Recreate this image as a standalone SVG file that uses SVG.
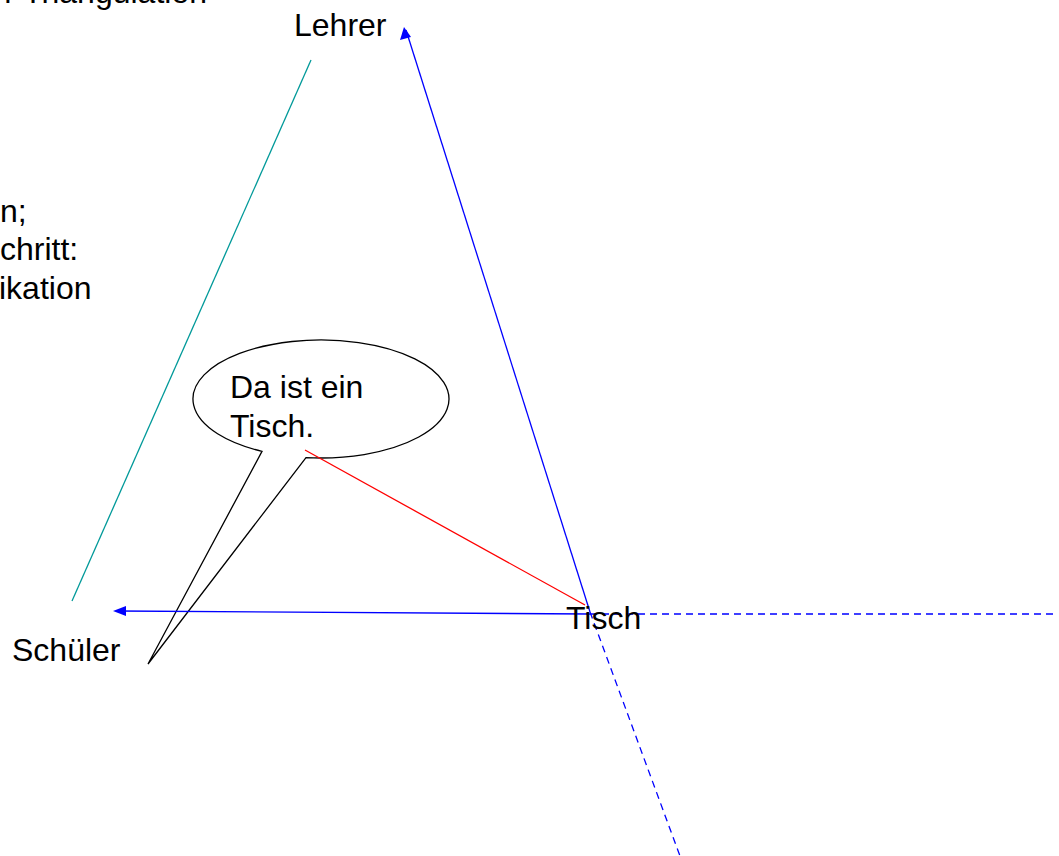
<svg xmlns="http://www.w3.org/2000/svg" width="1059" height="856" viewBox="0 0 1059 856">
<defs>
<style>
.t{font-family:"Liberation Sans",Arial,sans-serif;font-size:32px;fill:#000}
.b{stroke:#0000ff;stroke-width:1.3;fill:none}
.d{stroke:#0000ff;stroke-width:1.3;fill:none;stroke-dasharray:7,5}
.ah{fill:#0000ff}
</style>
</defs>
<rect width="1059" height="856" fill="#fff"/>
<g id="callout">
<path d="M262,451.36 L148,664 L306,457.59 A128,59 0 1 0 262,451.36 Z" fill="#fff" stroke="#000" stroke-width="1.3"/>
<text class="t" x="230" y="398">Da ist ein</text>
<text class="t" x="230" y="437">Tisch.</text>
</g>
<g id="connectors">
<line x1="311" y1="60" x2="72" y2="601" stroke="#009999" stroke-width="1.3"/>
<path class="b" d="M590,612 L406,30"/>
<path class="ah" d="M404,27 L400,40 L411,37 Z"/>
<path class="b" d="M590,614 L118,611"/>
<path class="ah" d="M113,611 L126,606 L126,616 Z"/>
<path class="d" d="M590,614 L1055,614"/>
<path class="d" d="M590,612 L680,856"/>
<line x1="305" y1="450" x2="585" y2="605" stroke="#ff0000" stroke-width="1.3"/>
</g>
<g id="lehrer"><text class="t" x="294" y="36">Lehrer</text></g>
<g id="schueler"><text class="t" x="12" y="661">Schüler</text></g>
<g id="tisch"><text class="t" x="566" y="629">Tisch</text></g>
<g id="notes">
<text class="t" x="207" y="3" text-anchor="end">r Triangulation</text>
<text class="t" x="0" y="222">n;</text>
<text class="t" x="0" y="260">chritt:</text>
<text class="t" x="-1" y="299">ikation</text>
</g>
</svg>
